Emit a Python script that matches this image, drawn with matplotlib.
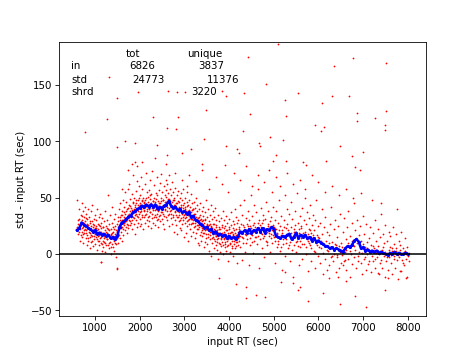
import matplotlib
matplotlib.use("Agg")
import matplotlib.pyplot as plt

# red points: (input RT, std - input RT)
red_start = [
    (585, 22), (600, 48), (610, 30), (620, 18), (640, 40), (655, 25), (665, 12), (680, 35), (690, 28), (700, 20),
    (705, 45), (712, 15), (720, 30), (728, 24), (735, 38), (742, 10), (750, 27), (758, 33), (765, 19), (772, 42),
    (780, 22), (788, 29), (795, 14), (802, 36), (810, 21), (818, 8), (825, 31), (832, 17), (840, 26), (848, 40),
    (855, 12), (862, 23), (870, 33), (878, 5), (885, 19), (892, 28), (898, 15), (904, 38), (910, 22), (918, 11),
    (925, 29), (932, 16), (940, 44), (947, 24), (955, 7), (962, 20), (970, 31), (978, 13), (985, 26), (992, 18),
    (998, 35), (1005, 9), (1012, 23), (1020, 30), (1027, 15), (1035, 40), (1042, 19), (1050, 4), (1058, 27),
    (1065, 12), (1072, 22), (1080, 33), (1088, 17), (1095, 8), (1103, 25), (1110, 14), (1118, 36), (1125, -7),
    (1130, 20), (1138, 10), (1145, 28), (1152, 3), (1160, 18), (1168, 32), (1175, 12), (1182, 24), (1190, 6),
    (1197, 16), (1204, 29), (1210, 11), (1218, 21), (1225, 2), (1232, 38), (1240, 15), (1248, 25), (1255, 8),
    (1262, 19), (1270, 30), (1278, 13), (1285, 52), (1292, 22), (1303, 5), (1310, 17), (1318, 27), (1325, 10),
    (1332, 35), (1340, 14), (1348, 22), (1355, 0), (1362, 18), (1370, 28), (1378, 9), (1385, 42), (1392, 15),
    (1398, 24), (1404, 6), (1410, 20), (1418, 31), (1425, 12), (1432, 3), (1440, 25), (1448, 16), (1455, 36),
    (1462, 9), (1470, 21), (1478, -3), (1485, 14), (1492, 27), (1498, -12),
]

red_hump = [
    (1505, 18), (1512, 33), (1520, 10), (1528, 25), (1535, 40), (1542, 22), (1550, 14), (1558, 30), (1565, 45),
    (1572, 20), (1580, 35), (1588, 27), (1595, 12), (1604, 38), (1610, 24), (1618, 48), (1625, 30), (1632, 17),
    (1640, 42), (1648, 33), (1655, 26), (1662, 55), (1670, 21), (1678, 36), (1685, 29), (1692, 46), (1703, 32),
    (1710, 19), (1718, 40), (1725, 27), (1732, 58), (1740, 35), (1748, 23), (1755, 44), (1762, 30), (1770, 62),
    (1778, 38), (1785, 26), (1792, 49), (1798, 34), (1804, 41), (1810, 28), (1818, 53), (1825, 36), (1832, 22),
    (1840, 46), (1848, 33), (1855, 70), (1862, 39), (1870, 27), (1878, 50), (1885, 35), (1892, 44), (1898, 18),
    (1904, 37), (1910, 56), (1918, 30), (1925, 45), (1932, 24), (1940, 40), (1948, 65), (1955, 33), (1962, 48),
    (1970, 28), (1978, 42), (1985, 36), (1992, 60), (1998, 25), (2004, 44), (2010, 31), (2018, 52), (2025, 38),
    (2032, 68), (2040, 27), (2048, 47), (2055, 35), (2062, 58), (2070, 41), (2078, 22), (2085, 50), (2092, 33),
    (2098, 45), (2104, 39), (2110, 62), (2118, 28), (2125, 48), (2132, 36), (2140, 72), (2148, 43), (2155, 30),
    (2162, 55), (2170, 38), (2178, 25), (2185, 51), (2192, 44), (2198, 34), (2204, 57), (2210, 40), (2218, 29),
    (2225, 49), (2232, 66), (2240, 37), (2248, 45), (2255, 23), (2262, 53), (2270, 41), (2278, 74), (2285, 32),
    (2292, 47), (2298, 39), (2304, 28), (2310, 50), (2318, 43), (2325, 61), (2332, 35), (2340, 46), (2348, 26),
    (2355, 54), (2362, 40), (2370, 33), (2378, 68), (2385, 44), (2392, 30), (2398, 52), (2404, 38), (2410, 47),
    (2418, 24), (2425, 57), (2432, 42), (2440, 34), (2448, 63), (2455, 45), (2462, 29), (2470, 50), (2478, 37),
    (2485, 71), (2492, 43), (2498, 31), (2504, 55), (2510, 40), (2518, 27), (2525, 48), (2532, 36), (2540, 60),
    (2548, 44), (2555, 22), (2562, 52), (2570, 39), (2578, 66), (2585, 46), (2592, 33), (2598, 57), (2604, 42),
    (2610, 30), (2618, 62), (2625, 47), (2632, 35), (2640, 54), (2648, 25), (2655, 49), (2662, 70), (2670, 38),
    (2678, 45), (2685, 58), (2692, 32), (2698, 43), (2704, 52), (2710, 36), (2718, 64), (2725, 41), (2732, 27),
    (2740, 48), (2748, 55), (2755, 33), (2762, 44), (2770, 20), (2778, 50), (2785, 38), (2792, 59), (2798, 30),
    (2804, 45), (2810, 35), (2818, 26), (2825, 52), (2832, 40), (2840, 18), (2848, 47), (2855, 33), (2862, 56),
    (2870, 29), (2878, 42), (2885, 37), (2892, 23), (2898, 50), (2904, 39), (2910, 30), (2918, 54), (2925, 44),
    (2932, 21), (2940, 36), (2948, 48), (2955, 27), (2962, 41), (2970, 58), (2978, 33), (2985, 15), (2992, 45),
    (2998, 38), (3004, 28), (3010, 50), (3018, 36), (3025, 42), (3032, 19), (3040, 33), (3048, 46), (3055, 25),
    (3062, 55), (3070, 38), (3078, 30), (3085, 12), (3092, 44), (3098, 35), (3104, 27), (3110, 48), (3118, 37),
    (3125, 22), (3132, 42), (3140, 31), (3148, 53), (3155, 16), (3162, 39), (3170, 28), (3178, 45), (3185, 34),
    (3192, 20), (3198, 40),
]

red_fall = [
    (3204, 30), (3210, 46), (3218, 24), (3225, 36), (3232, 14), (3240, 41), (3248, 28), (3255, 50), (3262, 33),
    (3270, 19), (3278, 38), (3285, 26), (3292, 44), (3298, 10), (3304, 32), (3310, 22), (3318, 40), (3325, 28),
    (3332, 8), (3340, 35), (3348, 17), (3355, 45), (3362, 25), (3370, 31), (3378, 12), (3385, 38), (3392, 21),
    (3398, 29), (3404, 16), (3410, 34), (3418, 24), (3425, 42), (3432, 6), (3440, 28), (3448, 19), (3455, 37),
    (3462, 11), (3470, 30), (3478, 22), (3485, 48), (3492, 14), (3498, 26), (3504, 33), (3510, 9), (3518, 25),
    (3525, 40), (3532, 18), (3540, 29), (3548, 3), (3555, 22), (3562, 35), (3570, 13), (3578, 27), (3585, 44),
    (3592, 20), (3598, -2), (3604, 24), (3610, 31), (3618, 10), (3625, 20), (3632, 38), (3640, 15), (3648, 27),
    (3655, 5), (3662, 22), (3670, 33), (3678, 12), (3685, 18), (3692, 41), (3698, 8), (3704, 26), (3710, 16),
    (3718, 30), (3725, 4), (3732, 21), (3740, 13), (3748, 35), (3755, 19), (3762, -4), (3770, 24), (3778, 10),
    (3785, 29), (3792, 17), (3798, 2), (3804, 22), (3810, 14), (3818, 32), (3825, 7), (3832, 19), (3840, 26),
    (3848, 11), (3855, 38), (3862, 16), (3870, 0), (3878, 23), (3885, 13), (3892, 30), (3898, 6), (3904, 18),
    (3910, 25), (3918, 9), (3925, 34), (3932, 15), (3940, 3), (3948, 21), (3955, 12), (3962, 28), (3970, -6),
    (3978, 17), (3985, 8), (3992, 24), (3998, 14), (4004, 31), (4010, 10), (4018, 19), (4025, 2), (4032, 26),
    (4040, 15), (4048, 37), (4055, 7), (4062, 20), (4070, 12), (4078, 29), (4085, -2), (4092, 17), (4098, 23),
    (4104, 9), (4110, 27), (4118, 14), (4125, 40), (4132, 5), (4140, 19), (4148, 33), (4155, 11), (4162, 22),
    (4170, -8), (4178, 16), (4185, 28), (4192, 8), (4198, 20),
]

red_plateau = [
    (4208, 30), (4220, 12), (4232, 24), (4245, 44), (4255, 6), (4268, 19), (4280, 35), (4290, 15), (4298, -5),
    (4310, 26), (4322, 10), (4335, 48), (4345, 21), (4358, 2), (4370, 32), (4382, 17), (4392, 27), (4405, 13),
    (4418, 38), (4428, 22), (4440, -10), (4452, 30), (4465, 8), (4475, 25), (4488, 52), (4496, 18), (4508, 11),
    (4520, 34), (4530, 20), (4542, 1), (4555, 28), (4568, 44), (4578, 15), (4590, 24), (4605, 37), (4618, 9),
    (4630, 22), (4642, 58), (4655, 16), (4665, 30), (4678, -12), (4690, 26), (4705, 19), (4715, 41), (4728, 5),
    (4740, 28), (4752, 14), (4765, 35), (4778, 23), (4790, -3), (4808, 31), (4820, 12), (4832, 46), (4845, 20),
    (4858, 8), (4868, 27), (4880, 38), (4892, 16), (4905, 24), (4918, 2), (4930, 33), (4942, 18), (4955, 55),
    (4965, 10), (4978, 26), (4990, 42), (5008, 15), (5020, 30), (5032, -8), (5045, 22), (5058, 38), (5068, 6),
    (5080, 19), (5092, 28), (5105, 12), (5118, 48), (5130, 25), (5142, 3), (5155, 17), (5168, 34), (5180, -14),
    (5192, 21), (5205, 9), (5218, 30), (5230, 16), (5242, 52), (5255, -2), (5268, 23), (5280, 13), (5292, 40),
    (5305, 27), (5318, 5), (5330, 18), (5342, 36), (5355, 11), (5368, -6), (5380, 24), (5392, 46), (5405, 15),
    (5418, 31), (5430, -20), (5442, 20), (5455, 8), (5468, 38), (5480, 26), (5492, 2), (5505, 18), (5518, 54),
    (5530, 12), (5542, 28), (5555, -10), (5568, 22), (5580, 34), (5592, 6), (5605, 25), (5618, 14), (5630, 41),
    (5642, -4), (5655, 19), (5668, 30), (5680, 9), (5692, 50), (5705, 16), (5718, 27), (5730, 0), (5742, 37),
    (5755, 12), (5768, -15), (5780, 22), (5792, 32), (5805, 8), (5818, 44), (5830, 19), (5842, -6), (5855, 26),
    (5868, 13), (5880, 35), (5892, 3), (5905, 21), (5918, -12), (5930, 30), (5942, 10), (5955, 48), (5968, 17),
    (5980, -2), (5992, 25),
]

red_tail = [
    (6010, 14), (6025, -8), (6040, 28), (6055, 5), (6070, 40), (6085, 18), (6095, -18), (6110, 9), (6125, 24),
    (6140, -4), (6155, 33), (6170, 12), (6185, -14), (6195, 20), (6210, 3), (6225, 17), (6240, -10), (6255, 27),
    (6270, 6), (6285, 42), (6295, -2), (6310, 11), (6325, -6), (6340, 22), (6355, 0), (6370, 30), (6385, -16),
    (6395, 8), (6410, 15), (6425, -3), (6440, 25), (6455, -12), (6470, 4), (6485, 36), (6495, -8), (6510, 10),
    (6525, -1), (6540, 20), (6555, -10), (6570, 32), (6585, 2), (6595, -5), (6610, 13), (6625, -14), (6640, 24),
    (6655, -4), (6670, 38), (6685, 6), (6695, -20), (6710, 16), (6725, 0), (6740, 28), (6755, -9), (6770, 8),
    (6785, 45), (6795, -3), (6810, 21), (6825, 4), (6840, -12), (6855, 30), (6870, 10), (6885, -6), (6895, 17),
    (6910, 2), (6925, 25), (6940, -8), (6955, 12), (6970, -18), (6985, 34), (6995, 5), (7010, -4), (7025, 18),
    (7040, 6), (7055, -14), (7070, 27), (7085, 0), (7095, 11), (7110, -9), (7125, 14), (7140, 3), (7155, 24),
    (7170, -16), (7185, 8), (7195, -2), (7210, 19), (7225, -6), (7240, 5), (7255, 30), (7270, -12), (7285, 12),
    (7295, 1), (7310, -3), (7325, 22), (7340, 7), (7355, -18), (7370, 15), (7385, -8), (7395, 36), (7410, 4),
    (7425, -12), (7440, 18), (7455, -2), (7470, 10), (7485, -20), (7495, 26), (7510, -6), (7525, 12), (7540, 1),
    (7555, -14), (7570, 20), (7585, -3), (7595, 6), (7610, 16), (7625, -8), (7640, 3), (7655, -18), (7670, 24),
    (7685, -2), (7695, 9), (7710, -12), (7725, 5), (7740, 18), (7755, -5), (7770, 1), (7785, -22), (7795, 12),
    (7810, -3), (7825, 8), (7840, -15), (7855, 20), (7870, 0), (7885, -8), (7895, 5), (7910, -10), (7925, 3),
    (7940, 14), (7955, -4), (7970, -20), (7985, 6), (8000, -2), (8020, 1), (8030, -6),
]

# denser core of the cloud, close to the running line
red_core = [
    (603, 24), (616, 27), (633, 20), (647, 31), (662, 22), (677, 17), (693, 26), (708, 23), (717, 34), (731, 18),
    (746, 28), (761, 21), (776, 25), (791, 32), (807, 19), (821, 27), (836, 14), (851, 24), (866, 20), (881, 29),
    (896, 22), (907, 17), (921, 25), (936, 12), (951, 21), (966, 27), (981, 16), (996, 23), (1009, 19), (1024, 25),
    (1039, 13), (1054, 21), (1069, 16), (1084, 26), (1099, 12), (1114, 20), (1129, 15), (1144, 23), (1159, 9),
    (1174, 18), (1189, 24), (1204, 14), (1219, 17), (1234, 10), (1249, 20), (1264, 13), (1279, 23), (1294, 8),
    (1309, 16), (1324, 21), (1339, 11), (1354, 17), (1369, 6), (1384, 19), (1399, 13), (1414, 16), (1429, 22),
    (1444, 10), (1459, 18), (1474, 13), (1489, 20), (1507, 24), (1522, 29), (1537, 17), (1552, 26), (1567, 33),
    (1582, 23), (1597, 30), (1612, 35), (1627, 22), (1642, 28), (1657, 37), (1672, 32), (1687, 24), (1702, 38),
    (1717, 31), (1732, 26), (1747, 41), (1762, 36), (1777, 29), (1792, 43), (1807, 33), (1822, 39), (1837, 30),
    (1852, 45), (1867, 40), (1882, 32), (1897, 42), (1912, 36), (1927, 48), (1942, 34), (1957, 44), (1972, 38),
    (1987, 50), (2002, 37), (2017, 45), (2032, 40), (2047, 33), (2062, 48), (2077, 42), (2092, 38), (2107, 46),
    (2122, 35), (2137, 43), (2152, 50), (2167, 40), (2182, 33), (2197, 46), (2212, 42), (2227, 37), (2242, 52),
    (2257, 44), (2272, 36), (2287, 41), (2302, 47), (2317, 33), (2332, 44), (2347, 39), (2362, 49), (2377, 36),
    (2392, 43), (2407, 31), (2422, 45), (2437, 40), (2452, 35), (2467, 47), (2482, 42), (2497, 37), (2512, 48),
    (2527, 43), (2542, 34), (2557, 46), (2572, 40), (2587, 51), (2602, 38), (2617, 45), (2632, 49), (2647, 41),
    (2662, 36), (2677, 47), (2692, 43), (2707, 39), (2722, 46), (2737, 35), (2752, 42), (2767, 48), (2782, 37),
    (2797, 44), (2812, 40), (2827, 33), (2842, 45), (2857, 38), (2872, 35), (2887, 46), (2902, 41), (2917, 32),
    (2932, 42), (2947, 37), (2962, 30), (2977, 44), (2992, 35), (3007, 40), (3022, 32), (3037, 38), (3052, 29),
    (3067, 43), (3082, 35), (3097, 31), (3112, 39), (3127, 33), (3142, 27), (3157, 37), (3172, 31), (3187, 40),
    (3202, 28), (3217, 34), (3232, 25), (3247, 36), (3262, 29), (3277, 22), (3292, 31), (3307, 26), (3322, 33),
    (3337, 24), (3352, 30), (3367, 20), (3382, 28), (3397, 23), (3412, 30), (3427, 19), (3442, 25), (3457, 21),
    (3472, 31), (3487, 18), (3502, 27), (3517, 22), (3532, 15), (3547, 26), (3562, 20), (3577, 17), (3592, 25),
    (3607, 14), (3622, 23), (3637, 18), (3652, 27), (3667, 13), (3682, 21), (3697, 16), (3712, 24), (3727, 11),
    (3742, 19), (3757, 14), (3772, 22), (3787, 9), (3802, 18), (3817, 13), (3832, 24), (3847, 17), (3862, 8),
    (3877, 20), (3892, 14), (3907, 11), (3922, 21), (3937, 16), (3952, 7), (3967, 19), (3982, 13), (3997, 22),
    (4012, 15), (4027, 9), (4042, 20), (4057, 14), (4072, 5), (4087, 18), (4102, 12), (4117, 21), (4132, 15),
    (4147, 7), (4162, 17), (4177, 11), (4192, 14), (4215, 22), (4240, 16), (4263, 27), (4285, 20), (4312, 14),
    (4338, 24), (4362, 18), (4387, 10), (4412, 25), (4437, 19), (4461, 14), (4486, 23), (4512, 17), (4537, 26),
    (4561, 12), (4587, 20), (4612, 15), (4637, 28), (4661, 21), (4687, 13), (4712, 24), (4737, 18), (4761, 30),
    (4787, 16), (4812, 22), (4837, 11), (4861, 25), (4887, 19), (4912, 29), (4937, 14), (4962, 21), (4987, 17),
    (5012, 24), (5037, 12), (5062, 18), (5087, 9), (5112, 21), (5137, 15), (5162, 6), (5187, 19), (5212, 13),
    (5237, 24), (5262, 10), (5287, 17), (5312, 21), (5337, 8), (5362, 15), (5387, 19), (5412, 4), (5437, 14),
    (5462, 22), (5487, 11), (5512, 16), (5537, 7), (5562, 19), (5587, 12), (5612, 23), (5637, 9), (5662, 15),
    (5687, 20), (5712, 6), (5737, 13), (5762, 18), (5787, 10), (5812, 21), (5837, 5), (5862, 14), (5887, 17),
    (5912, 2), (5937, 12), (5962, 8), (5987, 15), (6020, 6), (6062, 12), (6105, 1), (6148, 8), (6190, 4),
    (6233, 10), (6278, -3), (6320, 5), (6362, 9), (6405, -1), (6448, 7), (6490, 2), (6532, 6), (6578, -6),
    (6620, 4), (6662, 10), (6705, 3), (6748, 12), (6792, 7), (6835, 14), (6878, -2), (6920, 8), (6962, 1),
    (7005, 9), (7048, -3), (7092, 5), (7135, -6), (7178, 2), (7222, 7), (7265, -4), (7308, 4), (7352, 0),
    (7395, -5), (7438, 6), (7482, 2), (7525, -3), (7568, 4), (7612, -1), (7655, 5), (7698, -4), (7742, 3),
    (7785, -1), (7828, 4), (7872, -5), (7915, 2), (7958, 0),
]

red_outliers = [
    (5088, 187), (4433, 175), (6771, 174), (7515, 170), (6346, 167), (1313, 157), (4835, 151), (1960, 144),
    (2631, 145), (2824, 144), (3010, 144), (3852, 145), (3941, 140), (4343, 143), (5542, 143), (6309, 140),
    (6674, 140), (1484, 139), (5244, 137), (6070, 134), (3494, 128), (6853, 125), (7515, 127), (2288, 122),
    (4462, 124), (5274, 123), (1276, 120), (2861, 122), (7255, 121), (6853, 118), (7493, 115), (5920, 115),
    (7493, 110), (6128, 113), (2601, 112), (2802, 111), (784, 108), (4306, 109), (6048, 109), (4924, 104),
    (3450, 102), (1670, 100), (5200, 101), (1894, 99), (2385, 97), (4671, 99), (4693, 96), (3941, 96),
    (4180, 93), (6473, 96), (1499, 95), (3144, 93), (4217, 90), (7000, 91), (2936, 90), (5058, 88), (2601, 88),
    (5266, 83), (6756, 87), (1886, 82), (5654, 82), (3405, 80), (3918, 79), (5728, 79), (4976, 83), (6808, 77),
    (6920, 75), (6176, 83),
    (3100, 70), (3250, 65), (3400, 75), (3550, 58), (3700, 68), (3850, 62), (3980, 55), (4100, 72), (4250, 66),
    (4380, 78), (4520, 60), (4650, 70), (4780, 64), (4900, 75), (5050, 68), (5150, 60), (5300, 72), (5420, 62),
    (5580, 66), (5700, 58), (5850, 70), (6000, 64), (6150, 55), (6300, 60), (6450, 52), (6620, 58), (6780, 50),
    (6950, 54), (7200, 48), (7400, 45), (7750, 40), (1600, 58), (1750, 75), (1820, 80), (1950, 78), (2050, 82),
    (2350, 85), (2600, 80), (2800, 72), (2950, 66), (3050, 60),
    (1127, -7), (1491, -13), (7054, -47), (6473, -44), (5765, -42), (4388, -39), (4812, -38), (6823, -37),
    (4596, -36), (5542, -32), (7493, -32), (3777, -21), (4150, -27), (4388, -29), (6100, -35), (6235, -21),
    (6622, -24), (7552, -21), (7962, -21), (5155, -25), (5244, -16), (7330, -17), (7813, -15), (6436, -20),
    (5580, -29), (5430, -26),
]

# blue running line
blue = [
    (600, 21), (650, 23), (700, 28), (750, 26), (800, 25), (850, 23), (900, 22), (950, 20), (1000, 21),
    (1050, 18), (1100, 19), (1150, 17), (1200, 18), (1250, 16), (1300, 17), (1350, 14), (1400, 15), (1450, 13),
    (1500, 16), (1550, 24), (1600, 28), (1650, 29), (1700, 31), (1750, 33), (1800, 34), (1850, 37), (1900, 38),
    (1950, 40), (2000, 41), (2050, 43), (2100, 42), (2150, 44), (2200, 42), (2250, 44), (2300, 42), (2350, 44),
    (2400, 40), (2450, 42), (2500, 40), (2550, 43), (2600, 44), (2650, 47), (2700, 43), (2750, 41), (2800, 42),
    (2850, 39), (2900, 40), (2950, 37), (3000, 38), (3050, 36), (3100, 37), (3150, 33), (3200, 34), (3250, 30),
    (3300, 29), (3350, 27), (3400, 26), (3450, 23), (3500, 24), (3550, 21), (3600, 22), (3650, 19), (3700, 20),
    (3750, 17), (3800, 18), (3850, 16), (3900, 17), (3950, 14), (4000, 16), (4050, 14), (4100, 15), (4150, 13),
    (4200, 16), (4250, 20), (4300, 19), (4350, 21), (4400, 19), (4450, 22), (4500, 19), (4550, 21), (4600, 20),
    (4650, 23), (4700, 20), (4750, 23), (4800, 19), (4850, 22), (4900, 21), (4950, 24), (5000, 22), (5050, 16),
    (5100, 15), (5150, 14), (5200, 16), (5250, 15), (5300, 17), (5350, 18), (5400, 13), (5450, 15), (5500, 19),
    (5550, 14), (5600, 17), (5650, 15), (5700, 17), (5750, 14), (5800, 15), (5850, 12), (5900, 14), (5950, 11),
    (6000, 12), (6050, 10), (6100, 9), (6150, 7), (6200, 7), (6250, 5), (6300, 6), (6350, 4), (6400, 5),
    (6450, 4), (6500, 3), (6550, 2), (6600, 5), (6650, 7), (6700, 6), (6750, 8), (6800, 12), (6850, 13),
    (6900, 11), (6950, 5), (7000, 6), (7050, 3), (7100, 4), (7150, 2), (7200, 3), (7250, 2), (7300, 3),
    (7350, 1), (7400, 2), (7450, 1), (7500, 0), (7550, -1), (7600, 1), (7650, 0), (7700, 2), (7750, 0),
    (7800, 1), (7850, 0), (7900, 0), (7950, 1), (8000, 0),
]

stat_rows = ["in", "std", "shrd"]
stat_tot = ["6826", "24773", ""]
stat_unique = ["3837", "11376", "3220"]

red = red_start + red_hump + red_fall + red_plateau + red_tail + red_core + red_outliers
rx = [p[0] for p in red]
ry = [p[1] for p in red]
bx = [p[0] for p in blue]
by = [p[1] for p in blue]

fig = plt.figure(figsize=(6.4, 4.8), dpi=74)
ax = fig.add_subplot(111)

ax.scatter(rx, ry, s=3, c="red", linewidths=0)
ax.plot(bx, by, "-", color="blue", lw=2.5)
ax.plot(bx, by, ".", color="blue", ms=4)
ax.axhline(0, color="black", lw=1.5)

ax.set_xlim(200, 8410)
ax.set_ylim(-55, 188)
ax.set_xlabel("input RT (sec)")
ax.set_ylabel("std - input RT (sec)")

# stats table in the top-left corner
ax.text(0.182, 0.96, "tot", transform=ax.transAxes, va="center")
ax.text(0.348, 0.96, "unique", transform=ax.transAxes, va="center")
row_y = [0.913, 0.864, 0.818]
tot_x = [0.19, 0.2, 0.0]
uniq_x = [0.38, 0.402, 0.361]
for i in range(3):
    ax.text(0.032, row_y[i], stat_rows[i], transform=ax.transAxes, va="center")
    if stat_tot[i]:
        ax.text(tot_x[i], row_y[i], stat_tot[i], transform=ax.transAxes, va="center")
    ax.text(uniq_x[i], row_y[i], stat_unique[i], transform=ax.transAxes, va="center")

fig.savefig("out.png", dpi=74)
